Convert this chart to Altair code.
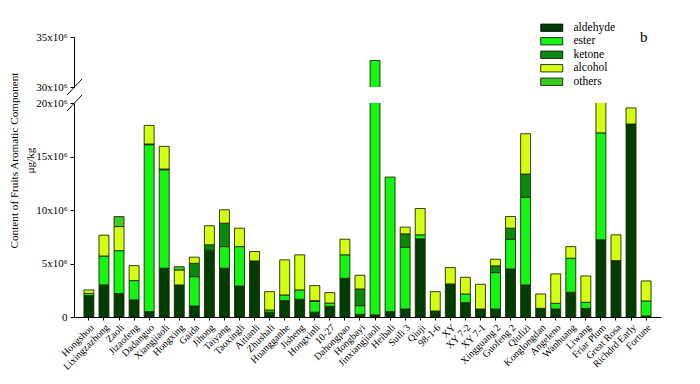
import altair as alt
import pandas as pd

categories = ["Hongshou", "Lixingzazhong", "Zaoli", "Jizaofeng", "Dadanguo", "Xiangjiaoli",
              "Hongxing", "Gaida", "Jihong", "Taiyang", "Taoxingli", "Aitianli", "Zhushali",
              "Huangganhe", "Jisheng", "Hongxinli", "10-27", "Dahongpao", "Hongbayi",
              "Jinxiangjiaoli", "Heibali", "Suili 3", "Qiuji", "98-1-6", "XY", "XY 7-2",
              "XY 7-1", "Xingguang 2", "Guofeng 2", "Qiulizi", "Konglongdan", "Angeleno",
              "Wanhuang", "Liwang", "Friar Plum", "Great Rosa", "Richdrd Early", "Fortune"]

# values in units of 10^6 ug/kg
aldehyde = [2.0, 3.0, 2.2, 1.6, 0.5, 4.56, 3.0, 1.03, 6.15, 4.56, 2.9, 5.24, 0.45,
            1.53, 1.66, 0.45, 1.0, 3.62, 0.25, 0.2, 0.5, 0.75, 7.3, 0.56, 3.09, 1.34,
            0.75, 0.75, 4.49, 3.0, 0.81, 0.75, 2.31, 0.81, 7.21, 5.27, 18.04, 0.1]
ester = [0.2, 2.7, 4.0, 1.8, 15.6, 9.2, 0.0, 2.74, 0.1, 2.02, 3.68, 0.0, 0.2,
         0.53, 0.87, 1.0, 0.3, 2.19, 0.81, 32.45, 12.58, 5.77, 0.38, 0.0, 0.0, 0.81,
         0.0, 3.4, 2.78, 8.2, 0.0, 0.53, 3.18, 0.56, 10.0, 0.0, 0.0, 1.4]
ketone = [0.0, 0.0, 0.0, 0.0, 0.07, 0.07, 0.0, 1.25, 0.5, 2.19, 0.0, 0.0, 0.0,
          0.0, 0.0, 0.08, 0.0, 0.0, 1.56, 0.0, 0.0, 1.25, 0.0, 0.0, 0.0, 0.0,
          0.0, 0.63, 1.03, 2.16, 0.0, 0.0, 0.0, 0.0, 0.0, 0.0, 0.0, 0.0]
alcohol = [0.33, 1.95, 2.25, 1.4, 1.74, 2.12, 1.4, 0.57, 1.78, 1.25, 1.72, 0.88, 1.72,
           3.28, 3.28, 1.4, 0.98, 1.46, 1.28, 0.0, 0.0, 0.63, 2.46, 1.81, 1.53, 1.56,
           2.31, 0.62, 1.09, 3.77, 1.34, 2.75, 1.09, 2.47, 4.3, 2.41, 1.5, 1.87]
others = [0.0, 0.0, 0.93, 0.0, 0.0, 0.0, 0.3, 0.0, 0.0, 0.0, 0.0, 0.0, 0.0,
          0.0, 0.0, 0.0, 0.0, 0.0, 0.0, 0.0, 0.0, 0.0, 0.0, 0.0, 0.0, 0.0,
          0.0, 0.0, 0.0, 0.0, 0.0, 0.0, 0.0, 0.0, 0.0, 0.0, 0.0, 0.0]

components = ["aldehyde", "ester", "ketone", "alcohol", "others"]
colors = ["#003d00", "#14f514", "#0a8a0a", "#d2ff12", "#3ccc1e"]

rows = []
for i, c in enumerate(categories):
    for j, arr in enumerate([aldehyde, ester, ketone, alcohol, others]):
        if arr[i] > 0:
            rows.append({"variety": c, "component": components[j], "k": j, "value": arr[i] * 1e6})
df = pd.DataFrame(rows)

FONT = "Liberation Serif"
W = 587
label_expr = "datum.value == 0 ? '0' : format(datum.value / 1e6, 'd') + 'x10\u2076'"

xscale = alt.Scale(paddingInner=0.34, paddingOuter=0.66)
cscale = alt.Scale(domain=components, range=colors)

def bars(ydomain, yvalues, xaxis, legend, ytitle=None):
    yaxis_kw = dict(values=yvalues, labelExpr=label_expr, grid=False, domainColor="black",
                    tickColor="black", tickSize=4, labelFont=FONT, labelFontSize=11,
                    labelColor="black", labelPadding=3)
    if ytitle is not None:
        yaxis_kw.update(title=ytitle, titleFont=FONT, titleFontSize=11.2, titleFontWeight="normal",
                        titleColor="black", titleX=-55, titleY=57, titleLineHeight=16)
    else:
        yaxis_kw.update(title=None)
    return alt.Chart(df).mark_bar(clip=True, stroke="#1f2a00", strokeWidth=0.9).encode(
        x=alt.X("variety:N", sort=categories, title=None, scale=xscale, axis=xaxis),
        y=alt.Y("value:Q", stack="zero", scale=alt.Scale(domain=ydomain, nice=False),
                axis=alt.Axis(**yaxis_kw)),
        color=alt.Color("component:N", scale=cscale, sort=components, legend=legend),
        order=alt.Order("k:Q", sort="ascending"),
    )

one = pd.DataFrame({"t": ["b"]})

legend = alt.Legend(orient="none", legendX=472, legendY=-15, title=None,
                    symbolType="M-3,-1H3V1H-3Z", symbolSize=54,
                    symbolStrokeColor="black", symbolStrokeWidth=0.8,
                    labelFont=FONT, labelFontSize=11.5, labelColor="black",
                    labelOffset=16, rowPadding=0.5)

top_bars = bars([30e6, 35e6], [30e6, 35e6], None, legend)
top_break = alt.Chart(one).mark_rule(color="black", strokeWidth=1).encode(
    x=alt.value(-7), x2=alt.value(8), y=alt.value(58), y2=alt.value(42))
b_label = alt.Chart(one).mark_text(font=FONT, fontSize=15, color="black", align="left",
                                   baseline="middle").encode(
    text="t:N", x=alt.value(566), y=alt.value(0))
top = alt.layer(top_bars, top_break, b_label).properties(width=W, height=50)

xaxis = alt.Axis(labelAngle=-45, labelFont=FONT, labelFontSize=10, labelColor="black",
                 domainColor="black", tickColor="black", tickSize=3, labelPadding=2)
bottom_bars = bars([0, 20e6], [0, 5e6, 10e6, 15e6, 20e6], xaxis, None,
                   ytitle=["Content of  Fruits Aromatic Component", "\u03bcg/kg"])
bottom_break = alt.Chart(one).mark_rule(color="black", strokeWidth=1).encode(
    x=alt.value(-7), x2=alt.value(8), y=alt.value(8), y2=alt.value(-8))
bottom = alt.layer(bottom_bars, bottom_break).properties(width=W, height=214)

chart = alt.vconcat(top, bottom, spacing=16, bounds="flush").resolve_scale(
    y="independent", x="shared", color="shared"
).properties(
    padding={"left": 0, "top": 14, "right": 5, "bottom": 0}
).configure_view(stroke=None)

chart.save("out.html", embed_options={"renderer": "svg", "actions": False})
